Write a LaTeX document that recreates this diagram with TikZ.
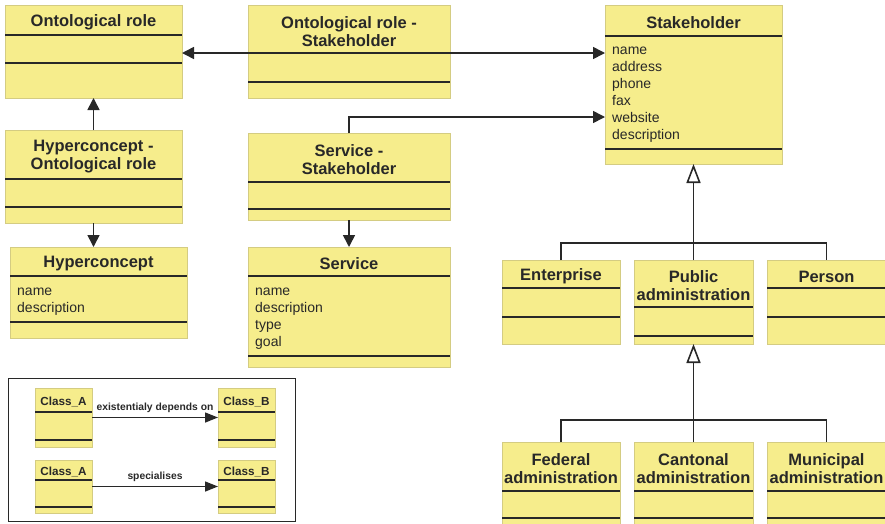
\documentclass[tikz,border=0pt]{standalone}
\usepackage{fontspec}
\setmainfont{Liberation Sans}
\usetikzlibrary{arrows.meta,calc}

\definecolor{classfill}{RGB}{246,237,140}
\definecolor{classedge}{RGB}{212,204,130}
\definecolor{ink}{RGB}{40,40,40}

\tikzset{
  classbox/.style={fill=classfill, draw=classedge, line width=1pt, inner sep=0pt, outer sep=0pt},
  sepline/.style={draw=ink, line width=1.8pt},
  titletext/.style={font=\bfseries\fontsize{16.5}{18}\selectfont, text=ink, align=center, inner sep=0pt},
  attrtext/.style={font=\fontsize{14}{17}\selectfont, text=ink, align=left, inner sep=0pt, anchor=north west},
  smalltitle/.style={font=\bfseries\fontsize{11.7}{13}\selectfont, text=ink, inner sep=0pt},
  dep/.style={draw=ink, line width=1.6pt, -{Triangle[length=12pt,width=12pt]}},
  legarrow/.style={draw=ink, line width=1.4pt, -{Triangle[length=13pt,width=10pt]}},
  genline/.style={draw=ink, line width=1.6pt},
  gen/.style={draw=ink, line width=1.6pt, -{Triangle[open,length=19pt,width=14pt,fill=white]}},
  deplabel/.style={font=\bfseries\fontsize{10.3}{12}\selectfont, text=ink, inner sep=0pt},
}

% \umlclass{name}{x}{y}{width}{height}{first separator}{second separator}{title}
\newcommand\umlclass[8]{%
  \node[classbox, minimum width=#4pt, minimum height=#5pt, anchor=north west] (#1) at (#2,#3) {};
  \draw[sepline] ([yshift=-#6pt]#1.north west) -- ([yshift=-#6pt]#1.north east);
  \draw[sepline] ([yshift=-#7pt]#1.north west) -- ([yshift=-#7pt]#1.north east);
  \node[titletext, yshift=-2.5pt] (#1-title) at ($(#1.north)!0.5!([yshift=-#6pt]#1.north)$) {#8};
}
% \umlattrs{class}{offset below top}{list of attributes}
\newcommand\umlattrs[3]{%
  \node[attrtext] (#1-attrs) at ([xshift=7pt,yshift=-#2pt]#1.north west) {#3};
}
% small classes of the key
\newcommand\keyclass[7]{%
  \node[classbox, minimum width=#4pt, minimum height=#5pt, anchor=north west] (#1) at (#2,#3) {};
  \draw[sepline, line width=1.4pt] ([yshift=-#6pt]#1.north west) -- ([yshift=-#6pt]#1.north east);
  \draw[sepline, line width=1.4pt] ([yshift=-#7pt]#1.north west) -- ([yshift=-#7pt]#1.north east);
}

\begin{document}
\begin{tikzpicture}[x=1pt, y=-1pt]
\useasboundingbox (0,0) rectangle (885,523);

% classes
\umlclass{ontrole}{5}{5}{177}{93}{30}{58}{Ontological role}
\umlclass{ors}{248}{5}{202}{93}{48}{77}{Ontological role -\\Stakeholder}
\umlclass{stake}{605}{5}{177}{159}{31}{144}{Stakeholder}
\umlattrs{stake}{42}{name\\address\\phone\\fax\\website\\description}
\umlclass{hor}{5}{130}{177}{93}{49}{77}{Hyperconcept -\\Ontological role}
\umlclass{hyper}{10}{247}{177}{91}{29}{75}{Hyperconcept}
\umlattrs{hyper}{41}{name\\description}
\umlclass{sserv}{248}{133}{202}{87}{49}{76}{Service -\\Stakeholder}
\umlclass{service}{248}{247}{202}{120}{29}{109}{Service}
\umlattrs{service}{41}{name\\description\\type\\goal}

\umlclass{enterprise}{502}{260}{118}{84}{28}{57}{Enterprise}
\umlclass{pubadm}{634}{260}{119}{84}{47}{76}{Public\\administration}
\umlclass{person}{767}{260}{119}{84}{28}{57}{Person}

\umlclass{federal}{502}{442}{118}{92}{49}{76}{Federal\\administration}
\umlclass{cantonal}{634}{442}{119}{92}{49}{76}{Cantonal\\administration}
\umlclass{municipal}{767}{442}{119}{92}{49}{76}{Municipal\\administration}

% existential dependencies
\coordinate (orsL) at ([yshift=-48pt]ors.north west);
\coordinate (orsR) at ([yshift=-48pt]ors.north east);
\draw[dep] (orsL) -- (orsL -| ontrole.east);
\draw[dep] (orsR) -- (orsR -| stake.west);
\draw[dep] (hor.north) -- (ontrole.south);
\draw[dep] (hor.south) -- (hor.south |- hyper.north);
\draw[dep] (sserv.north) |- ([yshift=-112pt]stake.north west);
\draw[dep] (sserv.south) -- (service.north);

% specialisations
\coordinate (g1) at (693.5,243);
\draw[gen] (g1) -- (stake.south);
\draw[genline] (enterprise.north) |- (g1) -| (person.north);
\draw[genline] (pubadm.north) -- (g1);

\coordinate (g2) at (693.5,420);
\draw[gen] (g2) -- (pubadm.south);
\draw[genline] (federal.north) |- (g2) -| (municipal.north);
\draw[genline] (cantonal.north) -- (g2);

% key
\node[draw=ink, line width=1pt, minimum width=287pt, minimum height=143pt, anchor=north west, inner sep=0pt] (key) at (8,378) {};
\keyclass{ka1}{35}{388}{57}{59}{24}{52}
\keyclass{kb1}{218}{388}{57}{59}{24}{52}
\keyclass{ka2}{35}{460}{57}{53}{20}{47}
\keyclass{kb2}{218}{460}{57}{53}{20}{47}
\node[smalltitle, yshift=-1.5pt] at ($(ka1.north)!0.5!([yshift=-24pt]ka1.north)$) {Class\_A};
\node[smalltitle, yshift=-1.5pt] at ($(kb1.north)!0.5!([yshift=-24pt]kb1.north)$) {Class\_B};
\node[smalltitle, yshift=-1.5pt] at ($(ka2.north)!0.5!([yshift=-20pt]ka2.north)$) {Class\_A};
\node[smalltitle, yshift=-1.5pt] at ($(kb2.north)!0.5!([yshift=-20pt]kb2.north)$) {Class\_B};
\draw[legarrow] (ka1.east) -- node[deplabel, above=4pt] {existentialy depends on} (kb1.west);
\draw[legarrow] (ka2.east) -- node[deplabel, above=4pt] {specialises} (kb2.west);
\end{tikzpicture}
\end{document}
